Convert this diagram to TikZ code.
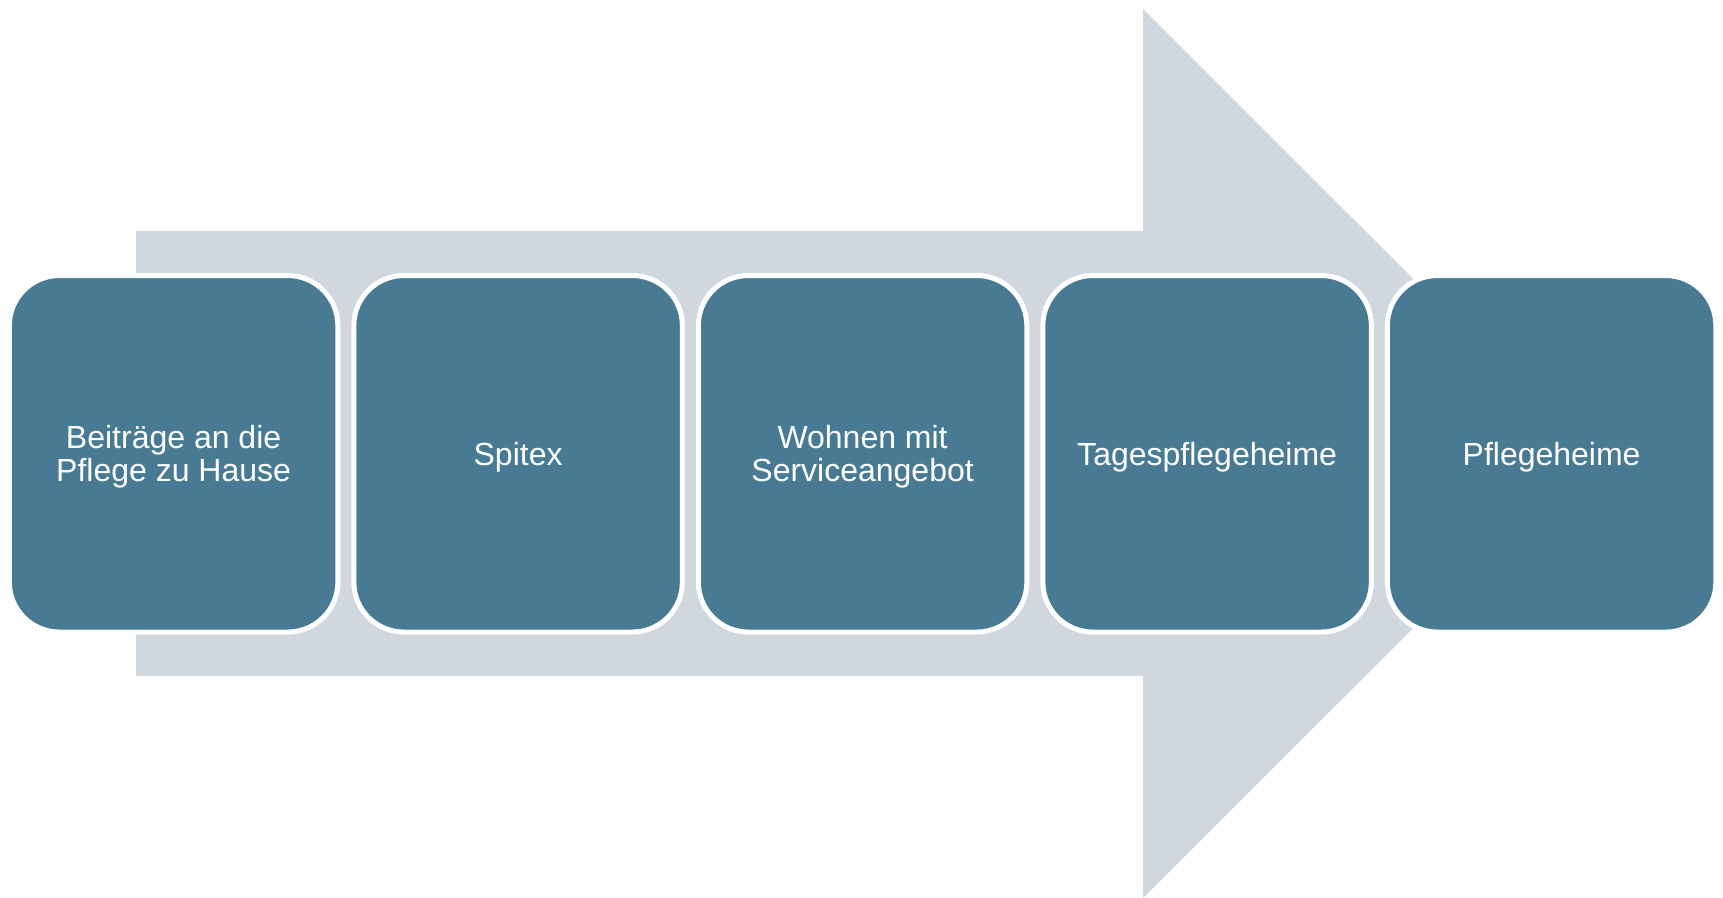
\documentclass[tikz,border=0pt]{standalone}
\usepackage{fontspec}
\setmainfont{Liberation Sans}
\definecolor{boxblue}{RGB}{72,123,147}
\definecolor{arrowgray}{RGB}{208,215,221}
\tikzset{
  stepbox/.style={rectangle, rounded corners=50pt, fill=boxblue, draw=white, line width=5pt,
    minimum width=328.5pt, minimum height=356.5pt, inner sep=0pt},
  steptext/.style={inner sep=0pt, text=white, font=\fontsize{32}{33}\selectfont, align=center, yshift=-3pt},
  bigarrow/.style={fill=arrowgray, draw=none}
}
\begin{document}
\begin{tikzpicture}[x=1pt,y=-1pt]
\useasboundingbox (0,0) rectangle (1723,897);
\fill[bigarrow] (136,231) -- (1143,231) -- (1143,9) -- (1588,453.5) -- (1143,898) -- (1143,676) -- (136,676) -- cycle;
\node[stepbox] (b1) at (173.6,453.8) {};
\node[stepbox] (b2) at (518.1,453.8) {};
\node[stepbox] (b3) at (862.6,453.8) {};
\node[stepbox] (b4) at (1207.1,453.8) {};
\node[stepbox] (b5) at (1551.6,453.8) {};
\node[steptext] (t1) at (b1.center) {Beiträge an die\\Pflege zu Hause};
\node[steptext] (t2) at (b2.center) {Spitex};
\node[steptext] (t3) at (b3.center) {Wohnen mit\\Serviceangebot};
\node[steptext] (t4) at (b4.center) {Tagespflegeheime};
\node[steptext] (t5) at (b5.center) {Pflegeheime};
\end{tikzpicture}
\end{document}
